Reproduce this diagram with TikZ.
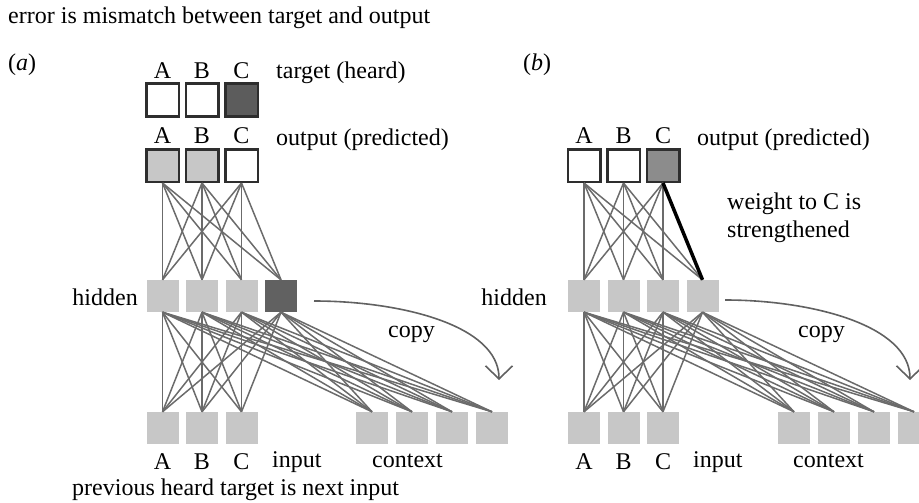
\documentclass[tikz,border=0pt]{standalone}
\usepackage{fontspec}
\setmainfont{Liberation Serif}
\usetikzlibrary{shapes,arrows,arrows.meta,positioning}

\tikzset{
    toplabel/.style={label={[inner sep=0pt,label distance=4pt]above:#1}},
    bottomlabel/.style={label={[inner sep=0pt,label distance=9pt]below:#1}}
}

\begin{document}
\begin{tikzpicture}[x=1pt,y=-1pt,>=latex',node distance=39.5pt,auto,font=\fontsize{24}{28}\selectfont]
        % Define block styles
        \tikzstyle{unit} = [rectangle, fill=black!22, minimum size=32pt, inner sep=0pt]
        \tikzstyle{outunit} = [rectangle, draw=black!82, line width=2.5pt, fill=white, minimum size=32.5pt, inner sep=0pt]
        \tikzstyle{tag} = [inner sep=0pt, anchor=base west]
        \tikzstyle{link} = [draw, black!58, line width=1.5pt]
        \tikzstyle{strong} = [draw, black, line width=3.5pt]
        \tikzstyle{copyline} = [draw, black!62, line width=1.6pt, -{Straight Barb[length=13pt,width=27pt]}]

        \useasboundingbox (0,0) rectangle (919,503);

        % Texts
        \node [tag] (title) at (8,24) {error is mismatch between target and output};
        \node [tag] (panel_a) at (8,71) {(\textit{a})};
        \node [tag] (panel_b) at (523,71) {(\textit{b})};
        \node [tag] (note) at (72,495) {previous heard target is next input};

        % Nodes (a)
        \node [outunit, toplabel=A] (target_a1) at (162.5,100) {};
        \node [outunit, toplabel=B, right of=target_a1] (target_a2) {};
        \node [outunit, toplabel=C, right of=target_a2, fill=black!64] (target_a3) {};
        \node [outunit, toplabel=A, below of=target_a1, node distance=65.5pt, fill=black!22] (output_a1) {};
        \node [outunit, toplabel=B, right of=output_a1, fill=black!22] (output_a2) {};
        \node [outunit, toplabel=C, right of=output_a2] (output_a3) {};
        \node [unit, below of=output_a1, node distance=130.5pt] (hidden_a1) {};
        \node [unit, right of=hidden_a1] (hidden_a2) {};
        \node [unit, right of=hidden_a2] (hidden_a3) {};
        \node [unit, right of=hidden_a3, fill=black!62] (hidden_a4) {};
        \node [unit, bottomlabel=A, below of=hidden_a1, node distance=132pt] (input_a1) {};
        \node [unit, bottomlabel=B, right of=input_a1] (input_a2) {};
        \node [unit, bottomlabel=C, right of=input_a2] (input_a3) {};
        \node [unit] (context_a1) at (372,428) {};
        \node [unit, right of=context_a1, node distance=40pt] (context_a2) {};
        \node [unit, right of=context_a2, node distance=40pt] (context_a3) {};
        \node [unit, right of=context_a3, node distance=40pt] (context_a4) {};

        \node [tag] (target_text) at (276,79) {target (heard)};
        \node [tag] (output_text_a) at (276,145) {output (predicted)};
        \node [tag, anchor=base east] (hidden_text_a) at (138,305) {hidden};
        \node [tag] (input_text_a) at (272,467) {input};
        \node [tag] (context_text_a) at (372,467) {context};
        \node [tag] (copy_text_a) at (388,337) {copy};

        % Nodes (b)
        \node [outunit, toplabel=A] (output_b1) at (584,165.5) {};
        \node [outunit, toplabel=B, right of=output_b1] (output_b2) {};
        \node [outunit, toplabel=C, right of=output_b2, fill=black!45] (output_b3) {};
        \node [unit, below of=output_b1, node distance=130.5pt] (hidden_b1) {};
        \node [unit, right of=hidden_b1] (hidden_b2) {};
        \node [unit, right of=hidden_b2] (hidden_b3) {};
        \node [unit, right of=hidden_b3] (hidden_b4) {};
        \node [unit, bottomlabel=A, below of=hidden_b1, node distance=132pt] (input_b1) {};
        \node [unit, bottomlabel=B, right of=input_b1] (input_b2) {};
        \node [unit, bottomlabel=C, right of=input_b2] (input_b3) {};
        \node [unit] (context_b1) at (794,428) {};
        \node [unit, right of=context_b1, node distance=40pt] (context_b2) {};
        \node [unit, right of=context_b2, node distance=40pt] (context_b3) {};
        \node [unit, right of=context_b3, node distance=40pt] (context_b4) {};

        \node [tag] (output_text_b) at (697,145) {output (predicted)};
        \node [tag] (weight_text) at (727,209) {weight to C is};
        \node [tag] (strength_text) at (727,237) {strengthened};
        \node [tag, anchor=base east] (hidden_text_b) at (547,305) {hidden};
        \node [tag] (input_text_b) at (693,467) {input};
        \node [tag] (context_text_b) at (793,467) {context};
        \node [tag] (copy_text_b) at (798,337) {copy};

        % Connections
        \foreach \p in {a,b} {
            \foreach \o in {1,2,3}
                \foreach \h in {1,2,3,4}
                    \path [link] (output_\p\o.south) -- (hidden_\p\h.north);
            \foreach \h in {1,2,3,4} {
                \foreach \i in {1,2,3}
                    \path [link] (hidden_\p\h.south) -- (input_\p\i.north);
                \foreach \c in {1,2,3,4}
                    \path [link] (hidden_\p\h.south) -- (context_\p\c.north);
            }
        }
        \path [strong] (output_b3.south) -- (hidden_b4.north);

        % Copy arrows
        \coordinate (copy_from_a) at (314,301);
        \coordinate (copy_to_a) at (499,380);
        \coordinate (copy_from_b) at (725,300);
        \coordinate (copy_to_b) at (910,380);
        \path [copyline] (copy_from_a) .. controls (400,301) and (499,325) .. (copy_to_a);
        \path [copyline] (copy_from_b) .. controls (811,300) and (910,325) .. (copy_to_b);

    \end{tikzpicture}
\end{document}
